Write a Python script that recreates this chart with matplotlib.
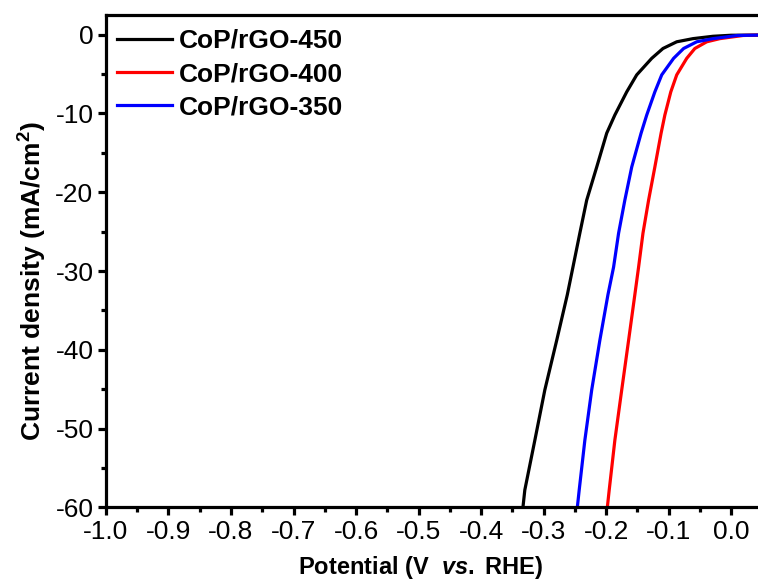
import matplotlib
matplotlib.use("Agg")
import matplotlib.pyplot as plt
from matplotlib.ticker import MultipleLocator, FuncFormatter

plt.rcParams['font.family'] = ['Liberation Sans', 'DejaVu Sans']
plt.rcParams['axes.unicode_minus'] = False
plt.rcParams['mathtext.fontset'] = 'custom'
plt.rcParams['mathtext.it'] = 'Liberation Sans:italic:bold'
plt.rcParams['mathtext.bf'] = 'Liberation Sans:bold'
plt.rcParams['mathtext.rm'] = 'Liberation Sans:bold'

labels = ["CoP/rGO-450", "CoP/rGO-400", "CoP/rGO-350"]
colors = ["black", "red", "blue"]

x_450 = [0.045, 0.0, -0.029, -0.061, -0.087, -0.109, -0.127, -0.151, -0.167, -0.186, -0.199,
         -0.215, -0.231, -0.242, -0.253, -0.262, -0.279, -0.298, -0.314, -0.330, -0.333]
y_450 = [-0.05, -0.07, -0.2, -0.5, -0.9, -1.75, -3.0, -5.1, -7.26, -10.2, -12.5,
         -16.8, -21.0, -25.2, -29.5, -33.0, -38.8, -45.1, -51.5, -57.8, -60]

x_400 = [0.045, 0.019, -0.018, -0.039, -0.058, -0.071, -0.087, -0.0965, -0.106, -0.112,
         -0.122, -0.132, -0.141, -0.148, -0.154, -0.164, -0.175, -0.186, -0.195, -0.198]
y_400 = [-0.05, -0.1, -0.5, -0.9, -1.75, -3.0, -5.1, -7.26, -10.2, -12.5,
         -16.8, -21.0, -25.2, -29.5, -33.0, -38.8, -45.1, -51.5, -57.8, -60]

x_350 = [0.045, 0.01, -0.029, -0.055, -0.076, -0.092, -0.111, -0.122, -0.135, -0.144,
         -0.159, -0.170, -0.180, -0.188, -0.197, -0.210, -0.223, -0.234, -0.243, -0.246]
y_350 = [-0.05, -0.1, -0.5, -0.9, -1.75, -3.0, -5.1, -7.26, -10.2, -12.5,
         -16.8, -21.0, -25.2, -29.5, -33.0, -38.8, -45.1, -51.5, -57.8, -60]

fig = plt.figure(figsize=(7.58, 5.84), dpi=100)
ax = fig.add_axes([0.1398, 0.1313, 0.8602, 0.843])

series = [(x_450, y_450), (x_400, y_400), (x_350, y_350)]
for (xs, ys), lab, c in zip(series, labels, colors):
    ax.plot(xs, ys, color=c, lw=2.3, label=lab)

ax.set_xlim(-1.0, 0.043)
ax.set_ylim(-60, 2.5)
ax.xaxis.set_major_locator(MultipleLocator(0.1))
ax.xaxis.set_minor_locator(MultipleLocator(0.05))
ax.yaxis.set_major_locator(MultipleLocator(10))
ax.yaxis.set_minor_locator(MultipleLocator(5))
ax.xaxis.set_major_formatter(FuncFormatter(lambda v, p: f"{v:.1f}".replace("-0.0", "0.0")))
ax.yaxis.set_major_formatter(FuncFormatter(lambda v, p: f"{v:.0f}"))

for s in ['left', 'bottom', 'top']:
    ax.spines[s].set_linewidth(2.3)
ax.spines['right'].set_visible(False)
ax.tick_params(which='major', direction='out', length=6, width=2.3, labelsize=19,
               top=False, right=False, pad=3)
ax.tick_params(which='minor', direction='out', length=3.5, width=2.3, top=False, right=False)

ax.set_xlabel("Potential (V  $\\mathit{vs.}$ RHE)", fontsize=17, fontweight='bold')
ax.set_ylabel("Current density (mA/cm$^{\\mathbf{2}}$)", fontsize=19, fontweight='bold')
ax.xaxis.set_label_coords(0.483, -0.094)
ax.xaxis.label.set_va('top')
ax.yaxis.set_label_coords(-0.088, 0.46)

leg = ax.legend(loc='upper left', frameon=False, prop={'weight': 'bold', 'size': 19},
                handlelength=2.1, handletextpad=0.25, labelspacing=0.35,
                borderaxespad=0.0, borderpad=0.0, bbox_to_anchor=(0.017, 0.972))

fig.savefig("out.png", dpi=100)
